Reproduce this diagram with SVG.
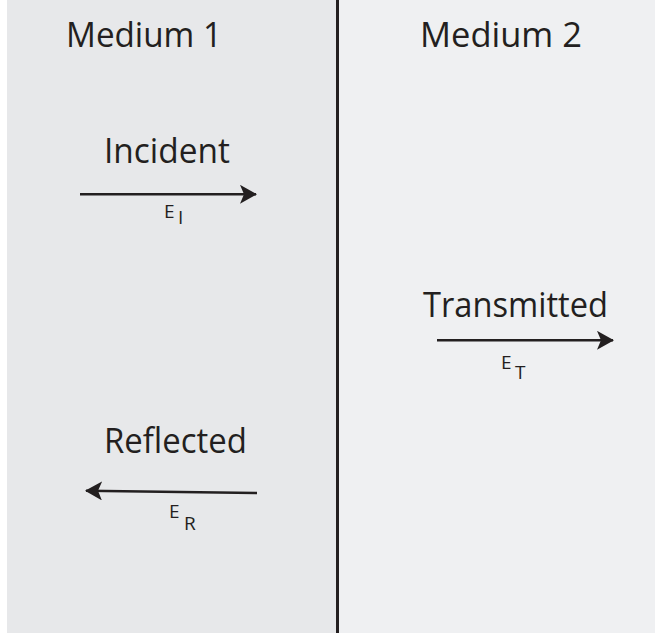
<svg xmlns="http://www.w3.org/2000/svg" width="655" height="634" viewBox="0 0 655 634">
  <style>
    .lbl { font-family: "Open Sans", "Noto Sans", sans-serif; fill: #231f20; }
    .big { font-size: 35px; }
    .sm { font-size: 19px; }
    .arrow { stroke: #231f20; stroke-width: 2.6; fill: none; }
  </style>
  <defs>
    <marker id="ah" viewBox="0 0 17 19" refX="16" refY="9.5" markerWidth="17" markerHeight="19" markerUnits="userSpaceOnUse" orient="auto">
      <path d="M0,0 L17,9.5 L0,19 L4,9.5 Z" fill="#231f20"/>
    </marker>
  </defs>
  <rect x="0" y="0" width="655" height="634" fill="#ffffff"/>
  <g id="medium1">
    <rect x="7" y="0" width="330" height="633" fill="#e7e8ea"/>
    <text class="lbl big" x="66" y="47" textLength="156" lengthAdjust="spacingAndGlyphs">Medium 1</text>
  </g>
  <g id="medium2">
    <rect x="337" y="0" width="318" height="633" fill="#eff0f2"/>
    <text class="lbl big" x="420" y="47" textLength="162" lengthAdjust="spacingAndGlyphs">Medium 2</text>
  </g>
  <g id="boundary">
    <line x1="337.5" y1="0" x2="337.5" y2="633" stroke="#231f20" stroke-width="3"/>
  </g>
  <g id="incident">
    <text class="lbl big" x="104" y="163" textLength="126" lengthAdjust="spacingAndGlyphs">Incident</text>
    <text class="lbl sm" x="164" y="218">E</text>
    <text class="lbl sm" x="178" y="224">I</text>
  </g>
  <g id="transmitted">
    <text class="lbl big" x="423" y="317" textLength="185" lengthAdjust="spacingAndGlyphs">Transmitted</text>
    <text class="lbl sm" x="501" y="369">E</text>
    <text class="lbl sm" x="515" y="379">T</text>
  </g>
  <g id="reflected">
    <text class="lbl big" x="104" y="453" textLength="143" lengthAdjust="spacingAndGlyphs">Reflected</text>
    <text class="lbl sm" x="169" y="518">E</text>
    <text class="lbl sm" x="184" y="530">R</text>
  </g>
  <g id="connectors">
    <line class="arrow" x1="80" y1="194.3" x2="256" y2="194.3" marker-end="url(#ah)"/>
    <line class="arrow" x1="437" y1="340.3" x2="613" y2="340.3" marker-end="url(#ah)"/>
    <line class="arrow" x1="257" y1="493" x2="86" y2="490.7" marker-end="url(#ah)"/>
  </g>
</svg>
